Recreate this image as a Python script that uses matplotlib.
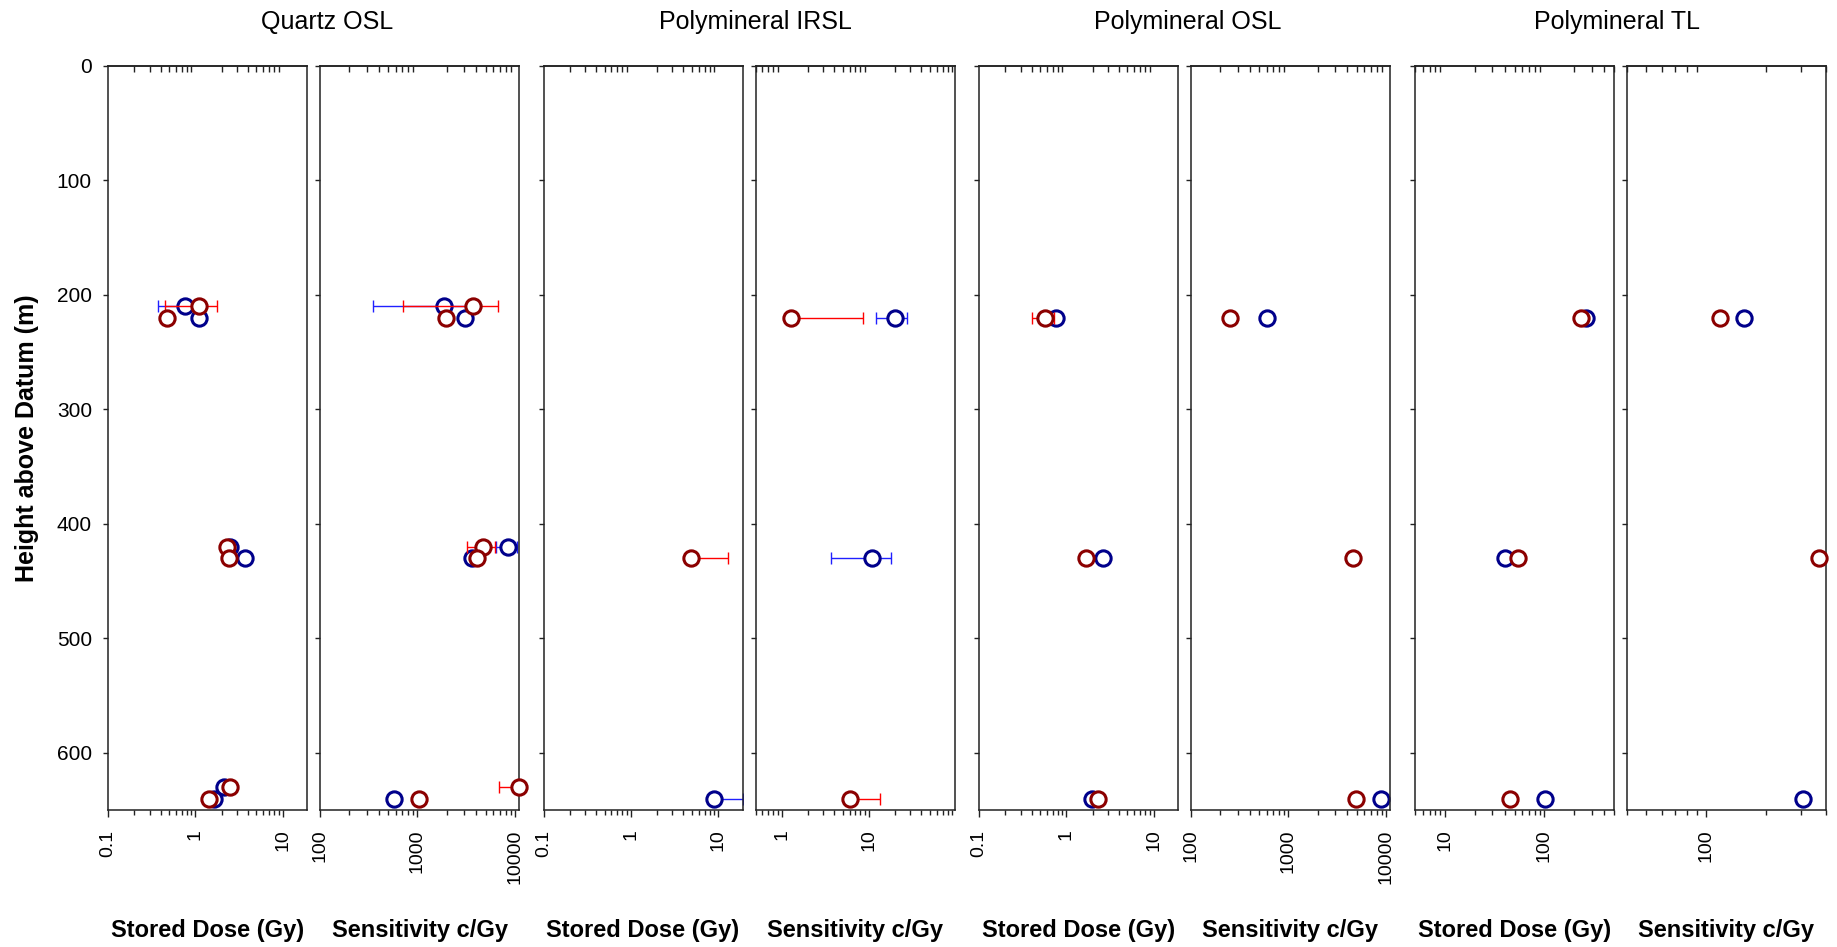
import matplotlib
matplotlib.use("Agg")
import matplotlib.pyplot as plt
import numpy as np
from matplotlib.ticker import (LogLocator, FuncFormatter, NullLocator,
                               NullFormatter, MultipleLocator)

plt.rcParams['font.family'] = ['Liberation Sans', 'DejaVu Sans']

# ---------------- data: height above datum (m), values, 1-sigma errors ----------------
# Quartz OSL - stored dose (Gy)
qz_dose_b_h = [210, 220, 420, 430, 630, 640]
qz_dose_b = [0.76, 1.10, 2.52, 3.75, 2.13, 1.65]
qz_dose_b_err = [0.39, 0, 0, 0, 0, 0]
qz_dose_r_h = [210, 220, 420, 430, 630, 640]
qz_dose_r = [1.10, 0.47, 2.32, 2.42, 2.52, 1.43]
qz_dose_r_err = [0.65, 0, 0, 0, 0, 0]

# Quartz OSL - sensitivity (c/Gy)
qz_sens_b_h = [210, 220, 420, 430, 640]
qz_sens_b = [1890, 3050, 8440, 3620, 577]
qz_sens_b_err = [1540, 0, 2000, 0, 0]
qz_sens_r_h = [210, 220, 420, 430, 630, 640]
qz_sens_r = [3680, 1970, 4750, 4110, 10880, 1034]
qz_sens_r_err = [2975, 0, 1550, 0, 4000, 0]

# Polymineral IRSL - stored dose (Gy)
ir_dose_b_h = [640]
ir_dose_b = [9.0]
ir_dose_b_err = [10.0]
ir_dose_r_h = [430]
ir_dose_r = [4.9]
ir_dose_r_err = [8.1]

# Polymineral IRSL - sensitivity (c/Gy)
ir_sens_b_h = [220, 430]
ir_sens_b = [19.9, 10.8]
ir_sens_b_err = [7.7, 7.1]
ir_sens_r_h = [220, 640]
ir_sens_r = [1.29, 6.0]
ir_sens_r_err = [7.3, 7.5]

# Polymineral OSL - stored dose (Gy)
po_dose_b_h = [220, 430, 640]
po_dose_b = [0.77, 2.63, 1.99]
po_dose_b_err = [0, 0, 0]
po_dose_r_h = [220, 430, 640]
po_dose_r = [0.565, 1.66, 2.32]
po_dose_r_err = [0.16, 0, 0]

# Polymineral OSL - sensitivity (c/Gy)
po_sens_b_h = [220, 640]
po_sens_b = [605, 8960]
po_sens_b_err = [0, 0]
po_sens_r_h = [220, 430, 640]
po_sens_r = [251, 4630, 4890]
po_sens_r_err = [0, 0, 0]

# Polymineral TL - stored dose (Gy)
tl_dose_b_h = [220, 430, 640]
tl_dose_b = [259, 40.4, 101.6]
tl_dose_b_err = [0, 0, 0]
tl_dose_r_h = [220, 430, 640]
tl_dose_r = [234, 54.2, 45.4]
tl_dose_r_err = [0, 0, 0]

# Polymineral TL - sensitivity (c/Gy)
tl_sens_b_h = [220, 640]
tl_sens_b = [155, 307]
tl_sens_b_err = [0, 0]
tl_sens_r_h = [220, 430]
tl_sens_r = [118, 367]
tl_sens_r_err = [0, 0]

group_titles = ["Quartz OSL", "Polymineral IRSL", "Polymineral OSL", "Polymineral TL"]
dose_label = "Stored Dose (Gy)"
sens_label = "Sensitivity c/Gy"
y_label = "Height above Datum (m)"

panels = [
    (qz_dose_b_h, qz_dose_b, qz_dose_b_err, qz_dose_r_h, qz_dose_r, qz_dose_r_err, (0.1, 19), dose_label),
    (qz_sens_b_h, qz_sens_b, qz_sens_b_err, qz_sens_r_h, qz_sens_r, qz_sens_r_err, (100, 11000), sens_label),
    (ir_dose_b_h, ir_dose_b, ir_dose_b_err, ir_dose_r_h, ir_dose_r, ir_dose_r_err, (0.1, 19), dose_label),
    (ir_sens_b_h, ir_sens_b, ir_sens_b_err, ir_sens_r_h, ir_sens_r, ir_sens_r_err, (0.5, 96), sens_label),
    (po_dose_b_h, po_dose_b, po_dose_b_err, po_dose_r_h, po_dose_r, po_dose_r_err, (0.1, 19), dose_label),
    (po_sens_b_h, po_sens_b, po_sens_b_err, po_sens_r_h, po_sens_r, po_sens_r_err, (100, 11000), sens_label),
    (tl_dose_b_h, tl_dose_b, tl_dose_b_err, tl_dose_r_h, tl_dose_r, tl_dose_r_err, (5, 500), dose_label),
    (tl_sens_b_h, tl_sens_b, tl_sens_b_err, tl_sens_r_h, tl_sens_r, tl_sens_r_err, (40, 400), sens_label),
]

# ---------------- layout (pixels) ----------------
W, H = 1837, 947
fig = plt.figure(figsize=(W / 100, H / 100), dpi=100)
fig.patch.set_facecolor("white")

lefts = [108, 320, 543.5, 755.5, 979, 1191, 1415, 1627]
panel_w = 199
top_px, bot_px = 65.7, 810
title_x = [327, 755, 1188, 1617]

BLUE_M, RED_M = "#00008B", "#8B0000"
BLUE_E, RED_E = "#2020FF", "#FF0000"
spine_col = "#222222"


def draw_series(ax, h, v, e, ecol, mcol, z):
    h = np.asarray(h, float)
    v = np.asarray(v, float)
    e = np.asarray(e, float)
    has = e > 0
    if has.any():
        # on a log axis a bar reaching below zero is shown one-sided
        lower = np.where(v[has] - e[has] > 0, e[has], 0.0)
        upper = e[has]
        ax.errorbar(v[has], h[has], xerr=[lower, upper], fmt="none",
                    ecolor=ecol, elinewidth=1.0, capsize=4.2, capthick=1.0,
                    zorder=z)
    ax.plot(v, h, linestyle="none", marker="o", markersize=11,
            markerfacecolor="white", markeredgecolor=mcol,
            markeredgewidth=2.2, zorder=z + 0.5, clip_on=False)


fmt = FuncFormatter(lambda val, pos: f"{val:g}")

for i, (bh, bv, be, rh, rv, re_, xlim, xlabel) in enumerate(panels):
    ax = fig.add_axes([lefts[i] / W, 1 - bot_px / H, panel_w / W,
                       (bot_px - top_px) / H])
    ax.set_xscale("log")
    ax.set_xlim(*xlim)
    ax.set_ylim(650, 0)

    draw_series(ax, bh, bv, be, BLUE_E, BLUE_M, 2)
    draw_series(ax, rh, rv, re_, RED_E, RED_M, 4)

    for sp in ax.spines.values():
        sp.set_color(spine_col)
        sp.set_linewidth(1.1)

    # bottom axis: major + minor ticks outward, rotated labels
    ax.xaxis.set_major_locator(LogLocator(base=10))
    ax.xaxis.set_minor_locator(LogLocator(base=10, subs=np.arange(2, 10)))
    ax.xaxis.set_major_formatter(fmt)
    ax.xaxis.set_minor_formatter(NullFormatter())
    ax.tick_params(axis="x", which="major", direction="out", length=5,
                   width=1.0, top=False, bottom=True, labelsize=14,
                   labelrotation=90, pad=9, color=spine_col)
    ax.tick_params(axis="x", which="minor", direction="out", length=3.6,
                   width=1.0, top=False, bottom=True, color=spine_col)

    # top axis: minor ticks only, pointing inward
    sec = ax.secondary_xaxis("top")
    sec.xaxis.set_major_locator(NullLocator())
    sec.xaxis.set_minor_locator(LogLocator(base=10, subs=np.arange(2, 10)))
    sec.xaxis.set_minor_formatter(NullFormatter())
    sec.tick_params(axis="x", which="minor", direction="in", length=4,
                    width=1.0, color=spine_col)
    sec.spines["top"].set_color(spine_col)
    sec.spines["top"].set_linewidth(1.1)

    # left axis
    ax.yaxis.set_major_locator(MultipleLocator(100))
    ax.tick_params(axis="y", which="major", direction="out", length=3.6,
                   width=1.0, left=True, right=False, labelsize=15, pad=8,
                   labelleft=(i == 0), color=spine_col)
    ax.tick_params(axis="y", which="minor", left=False, right=False)

    fig.text((lefts[i] + panel_w / 2) / W, 1 - 930 / H, xlabel,
             ha="center", va="center", fontsize=17, fontweight="bold")

for t, x in zip(group_titles, title_x):
    fig.text(x / W, 1 - 29 / H, t, ha="center", va="baseline", fontsize=18)

fig.text(27 / W, 1 - ((top_px + bot_px) / 2) / H, y_label, rotation=90,
         ha="center", va="center", fontsize=18, fontweight="bold")

fig.savefig("out.png", dpi=100, facecolor="white")
